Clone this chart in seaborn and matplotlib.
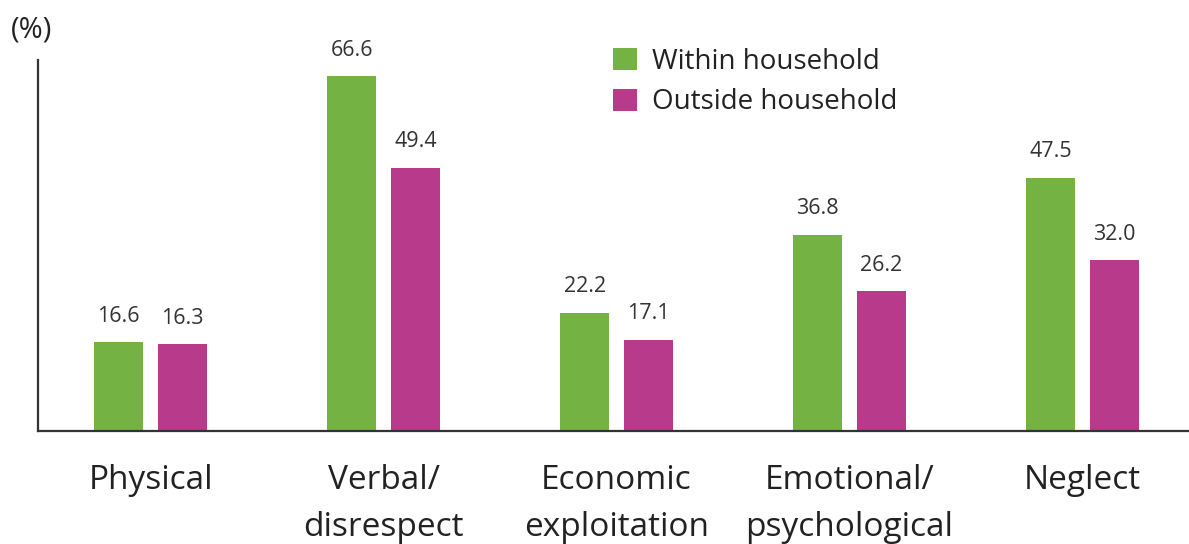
import matplotlib
matplotlib.use("Agg")
import matplotlib.pyplot as plt
import seaborn as sns
import pandas as pd

categories = ["Physical", "Verbal/\ndisrespect", "Economic\nexploitation", "Emotional/\npsychological", "Neglect"]
within = [16.6, 66.6, 22.2, 36.8, 47.5]
outside = [16.3, 49.4, 17.1, 26.2, 32.0]
series = ["Within household", "Outside household"]
colors = ["#74B343", "#B73B8A"]

df = pd.DataFrame({
    "cat": categories * 2,
    "val": within + outside,
    "series": [series[0]] * len(categories) + [series[1]] * len(categories),
})

sns.set_style("white")
plt.rcParams["font.family"] = ["Open Sans", "DejaVu Sans"]

fig = plt.figure(figsize=(11.89, 5.44), dpi=100)
ax = fig.add_axes([0.032, 0.208, 0.968, 0.682])

sns.barplot(data=df, x="cat", y="val", hue="series", palette=colors,
            width=0.546, gap=0.228, linewidth=0, ax=ax, legend=True, saturation=1)

for cont in ax.containers:
    ax.bar_label(cont, labels=[f"{v:.1f}" for v in cont.datavalues],
                 padding=11, fontsize=15.5, color="#333333")

ax.set_ylim(0, 69.6)
ax.set_xlim(-0.483, 4.457)
ax.set_yticks([])
ax.set_xlabel("")
ax.set_ylabel("")
ax.tick_params(axis="x", length=0, labelsize=24, colors="#222222", pad=24)
for lbl in ax.get_xticklabels():
    lbl.set_linespacing(1.55)
    lbl.set_verticalalignment("top")
for s in ["top", "right"]:
    ax.spines[s].set_visible(False)
for s in ["left", "bottom"]:
    ax.spines[s].set_color("#333333")
    ax.spines[s].set_linewidth(1.6)

leg = ax.legend(loc="upper left", bbox_to_anchor=(0.478, 1.10), frameon=False,
                fontsize=20, handlelength=0.85, handleheight=0.85,
                handletextpad=0.55, labelspacing=0.45, labelcolor="#222222")

fig.text(0.009, 0.945, "(%)", fontsize=21, color="#222222", va="center")

fig.savefig("out.png", dpi=100)
